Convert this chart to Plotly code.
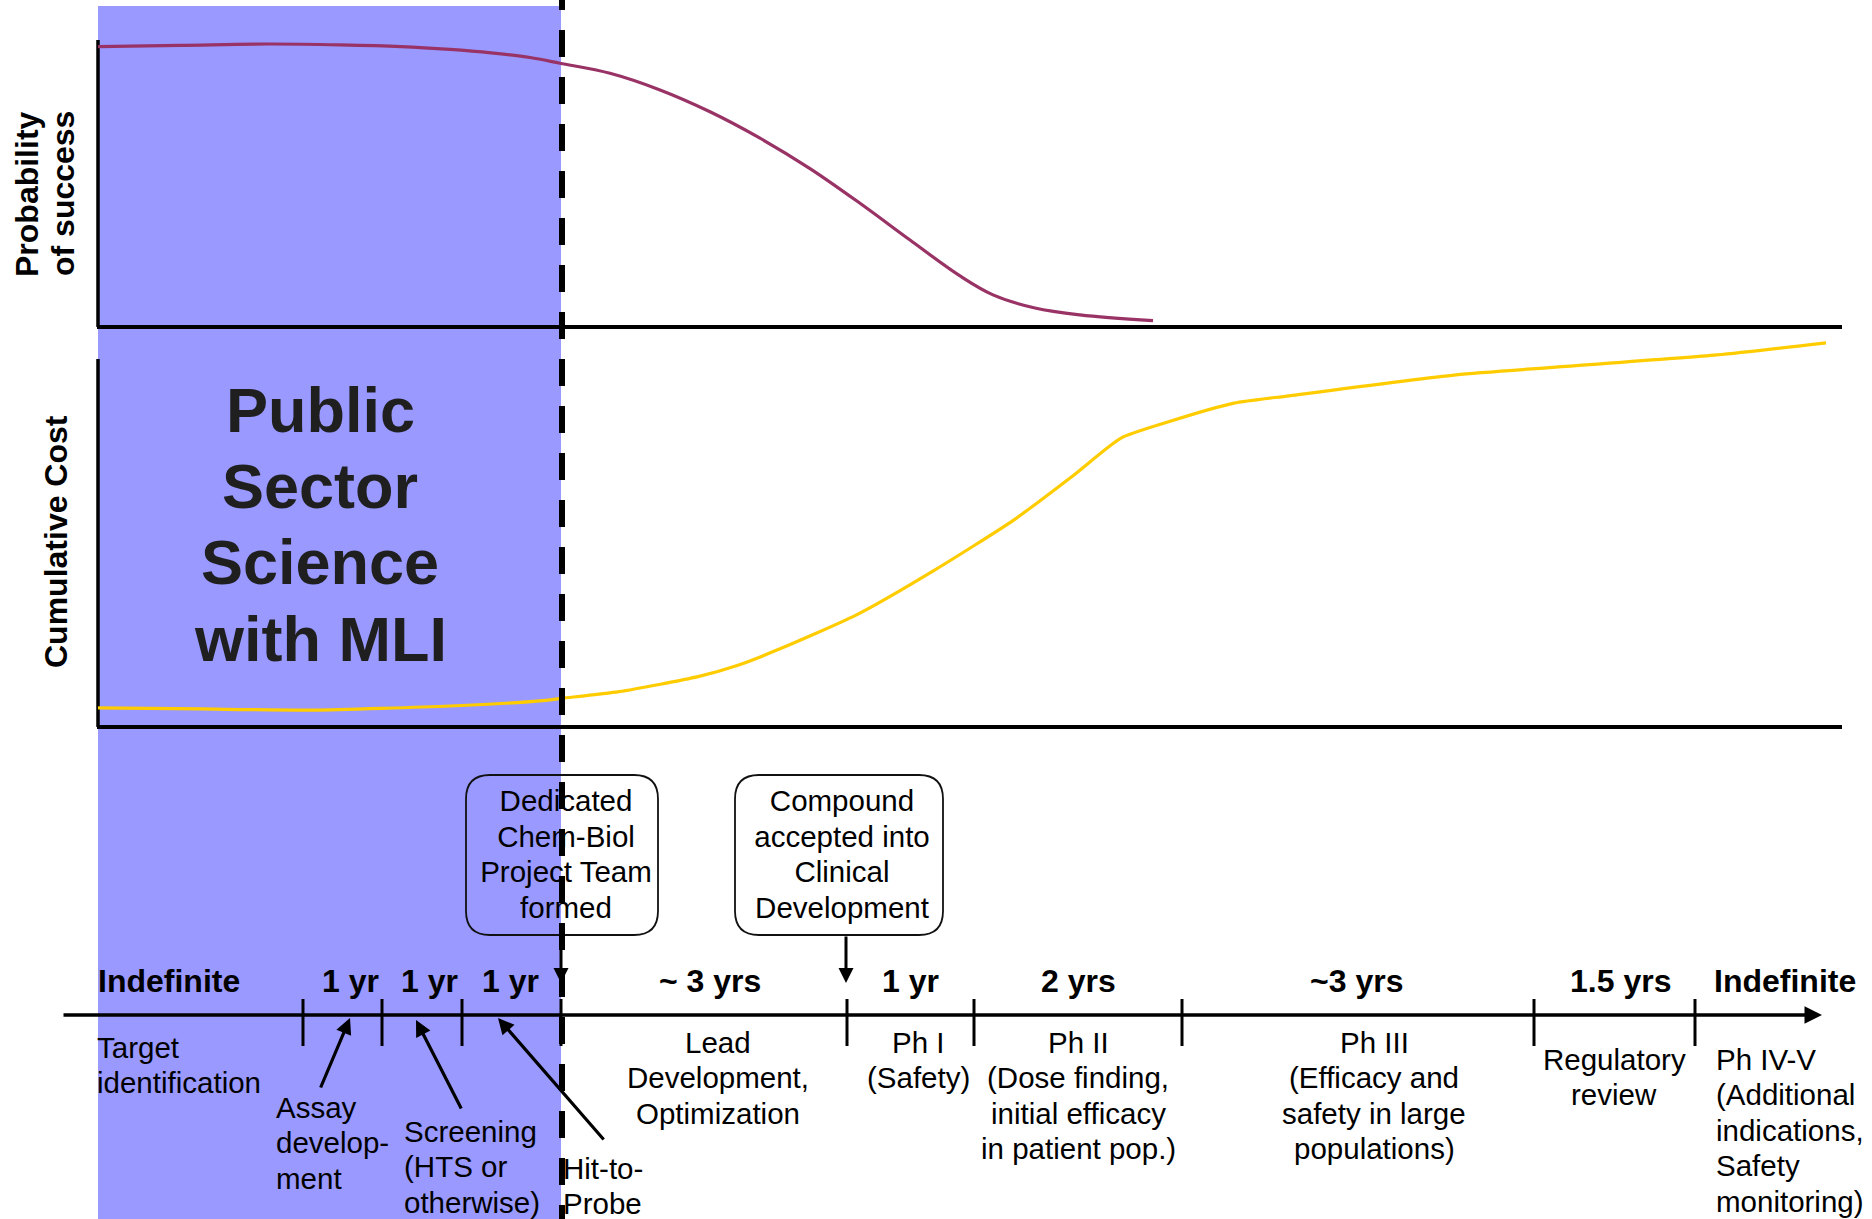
import plotly.graph_objects as go

W, H = 1872, 1219
FONT = "Liberation Sans, Arial, sans-serif"

# ---------------- data ----------------
# Probability of success along the timeline (timeline position, probability 0-1)
prob_x = [98, 180, 268, 340, 401, 450, 491, 530, 560, 610, 660, 710, 760, 810,
          860, 910, 960, 993, 1035, 1080, 1153]
prob_y = [0.977, 0.981, 0.986, 0.983, 0.977, 0.967, 0.955, 0.939, 0.919, 0.884,
          0.826, 0.750, 0.658, 0.552, 0.431, 0.303, 0.178, 0.112, 0.066,
          0.042, 0.022]

# Cumulative cost along the timeline (timeline position, relative cost)
cost_x = [98, 200, 312, 450, 540, 562, 619, 698, 738, 777, 856, 935, 1014, 1074,
          1121, 1167, 1234, 1289, 1456, 1556, 1717, 1826]
cost_y = [0.052, 0.049, 0.046, 0.057, 0.071, 0.078, 0.096, 0.137, 0.168, 0.209,
          0.304, 0.427, 0.563, 0.685, 0.785, 0.828, 0.880, 0.900, 0.957, 0.978,
          1.011, 1.044]

# Stage boundaries on the timeline (timeline position)
stage_bounds = [303, 382, 462, 561, 847, 974, 1182, 1534, 1695]
public_boundary = 561

duration_labels = ["Indefinite", "1 yr", "1 yr", "1 yr", "~ 3 yrs", "1 yr",
                   "2 yrs", "~3 yrs", "1.5 yrs", "Indefinite"]

stage_labels = [
    "Target<br>identification",
    "Assay<br>develop-<br>ment",
    "Screening<br>(HTS or<br>otherwise)",
    "Hit-to-<br>Probe",
    "Lead<br>Development,<br>Optimization",
    "Ph I<br>(Safety)",
    "Ph II<br>(Dose finding,<br>initial efficacy<br>in patient pop.)",
    "Ph III<br>(Efficacy and<br>safety in large<br>populations)",
    "Regulatory<br>review",
    "Ph IV-V<br>(Additional<br>indications,<br>Safety<br>monitoring)",
]

milestone_labels = [
    "Dedicated<br>Chem-Biol<br>Project Team<br>formed",
    "Compound<br>accepted into<br>Clinical<br>Development",
]

panel_titles = ["Probability<br>of success", "Cumulative Cost"]
region_label = "Public<br>Sector<br>Science<br>with MLI"

# ---------------- layout geometry (pixels) ----------------
duration_pos = [169, 350, 429, 510, 710, 910, 1078, 1356, 1620, 1785]
duration_y = 981
LINE = 35.5
stage_pos = [(95, 1047, "left"), (274, 1107, "left"), (402, 1131, "left"),
             (561, 1168, "left"), (718, 1042, "center"), (918, 1042, "center"),
             (1078, 1042, "center"), (1374, 1042, "center"),
             (1614, 1059, "center"), (1714, 1059, "left")]
stage_arrows = [((320, 1089), (350, 1018)), ((462, 1110), (416, 1020)),
                ((605, 1141), (498, 1018))]
boxes = [(466, 775, 658, 935), (735, 775, 943, 935)]
box_text_pos = [(566, 804), (842, 804)]
box_arrow_x = [561, 846]
title_pos = [[(27, 194), (63, 194)], [(56, 542)]]

AX_L = 98
AX_R = 1842
TOP_Y0, TOP_Y1 = 40, 327       # probability panel (pixel rows)
MID_Y0, MID_Y1 = 359, 727      # cost panel (pixel rows)
TL_Y = 1015                    # timeline axis row

fig = go.Figure()

fig.add_trace(go.Scatter(
    x=prob_x, y=prob_y, xaxis="x", yaxis="y2", mode="lines",
    line=dict(color="#993366", width=3.2, shape="spline", smoothing=1.0),
    hoverinfo="skip", showlegend=False))

fig.add_trace(go.Scatter(
    x=cost_x, y=cost_y, xaxis="x", yaxis="y3", mode="lines",
    line=dict(color="#FFCC00", width=3.2, shape="spline", smoothing=0.6),
    hoverinfo="skip", showlegend=False))

# milestone box texts (as a text trace so the dashed boundary overlays them)
bt_x, bt_y, bt_t = [], [], []
for lab, (x, y) in zip(milestone_labels, box_text_pos):
    for i, line in enumerate(lab.split("<br>")):
        bt_x.append(x)
        bt_y.append(y + i * LINE)
        bt_t.append(line)
fig.add_trace(go.Scatter(
    x=bt_x, y=bt_y, xaxis="x", yaxis="y", mode="text", text=bt_t,
    textposition="middle center",
    textfont=dict(family=FONT, size=29.5, color="#000"),
    hoverinfo="skip", showlegend=False))

shapes = []
shapes.append(dict(type="rect", xref="x", yref="y", x0=AX_L, x1=public_boundary,
                   y0=6, y1=H, fillcolor="#9999FF", line=dict(width=0),
                   layer="below"))
for (y0, y1) in [(TOP_Y0, TOP_Y1), (MID_Y0, MID_Y1)]:
    shapes.append(dict(type="line", xref="x", yref="y", x0=AX_L, x1=AX_L,
                       y0=y0, y1=y1, line=dict(color="black", width=3.5),
                       layer="below"))
    shapes.append(dict(type="line", xref="x", yref="y", x0=AX_L - 1, x1=AX_R,
                       y0=y1, y1=y1, line=dict(color="black", width=4),
                       layer="below"))
for b in stage_bounds:
    shapes.append(dict(type="line", xref="x", yref="y", x0=b, x1=b,
                       y0=TL_Y - 16, y1=TL_Y + 31,
                       line=dict(color="black", width=3), layer="below"))


def rrect(x0, y0, x1, y1, r):
    return (f"M{x0 + r},{y0} L{x1 - r},{y0} Q{x1},{y0} {x1},{y0 + r} "
            f"L{x1},{y1 - r} Q{x1},{y1} {x1 - r},{y1} L{x0 + r},{y1} "
            f"Q{x0},{y1} {x0},{y1 - r} L{x0},{y0 + r} Q{x0},{y0} {x0 + r},{y0} Z")


for (x0, y0, x1, y1) in boxes:
    shapes.append(dict(type="path", xref="x", yref="y",
                       path=rrect(x0, y0, x1, y1, 24),
                       line=dict(color="#111", width=1.8), layer="below"))
shapes.append(dict(type="line", xref="x", yref="y", x0=public_boundary + 1,
                   x1=public_boundary + 1, y0=-17, y1=H,
                   line=dict(color="black", width=6, dash="27px,20px"),
                   layer="above"))

ann = []


def add_text(text, x, y, anchor="center", size=29.5, bold=False, color="black",
             angle=0, spacing=LINE):
    for i, line in enumerate(text.split("<br>")):
        ann.append(dict(x=x, y=y + i * spacing, xref="x", yref="y",
                        text=f"<b>{line}</b>" if bold else line,
                        showarrow=False, xanchor=anchor, yanchor="middle",
                        textangle=angle,
                        font=dict(family=FONT, size=size, color=color)))


# timeline arrow
ann.append(dict(x=1822, y=TL_Y, ax=62, ay=TL_Y, xref="x", yref="y", axref="x",
                ayref="y", text="", showarrow=True, arrowhead=2, arrowsize=1,
                arrowwidth=3.5, arrowcolor="black"))
for lab, x in zip(duration_labels, duration_pos):
    add_text(lab, x, duration_y, size=32, bold=True)
for lab, (x, y, anc) in zip(stage_labels, stage_pos):
    add_text(lab, x, y, anchor=anc)
for (tail, head) in stage_arrows:
    ann.append(dict(x=head[0], y=head[1], ax=tail[0], ay=tail[1], xref="x",
                    yref="y", axref="x", ayref="y", text="", showarrow=True,
                    arrowhead=2, arrowsize=1, arrowwidth=3.2,
                    arrowcolor="black"))
for bx in box_arrow_x:
    ann.append(dict(x=bx, y=983, ax=bx, ay=935, xref="x", yref="y", axref="x",
                    ayref="y", text="", showarrow=True, arrowhead=2,
                    arrowsize=1, arrowwidth=3, arrowcolor="black"))
add_text(region_label, 320, 409.5, size=63, bold=True, color="#1f1f1f",
         spacing=76.4)
for lab, positions in zip(panel_titles, title_pos):
    for line, (x, y) in zip(lab.split("<br>"), positions):
        add_text(line, x, y, size=32, bold=True, angle=-90)

fig.update_layout(
    width=W, height=H, autosize=False,
    margin=dict(l=0, r=0, t=0, b=0, pad=0),
    paper_bgcolor="white", plot_bgcolor="rgba(0,0,0,0)",
    showlegend=False,
    xaxis=dict(range=[0, W], domain=[0, 1], visible=False, fixedrange=True),
    yaxis=dict(range=[H, 0], domain=[0, 1], visible=False, fixedrange=True),
    yaxis2=dict(range=[0, 1], domain=[(H - TOP_Y1) / H, (H - TOP_Y0) / H],
                anchor="x", visible=False, fixedrange=True),
    yaxis3=dict(range=[0, (MID_Y1 - TOP_Y1) / (MID_Y1 - MID_Y0)],
                domain=[(H - MID_Y1) / H, (H - TOP_Y1) / H],
                anchor="x", visible=False, fixedrange=True),
    shapes=shapes,
    annotations=ann,
)

fig.write_html("out.html", config={"displayModeBar": False},
               post_script="document.body.style.margin='0';")
